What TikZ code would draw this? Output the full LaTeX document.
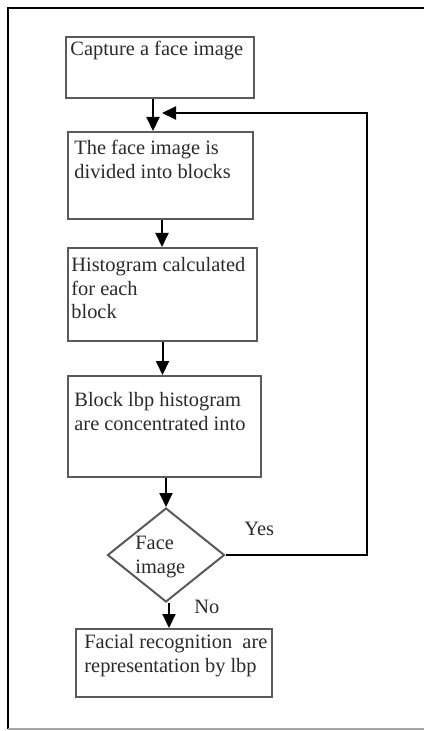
\documentclass[tikz,border=0pt]{standalone}
\usepackage{fontspec}
\setmainfont{Liberation Serif}
\usetikzlibrary{shapes.geometric,arrows.meta}
\definecolor{boxgray}{HTML}{5A5A5A}
\definecolor{txt}{HTML}{2A2A2A}
\tikzset{
  x=0.5pt, y=-0.5pt,
  box/.style={draw=boxgray, line width=1pt, inner sep=0pt, anchor=north west},
  lbl/.style={anchor=north west, inner sep=0pt, align=left, text=txt,
              font=\fontsize{10.2}{11.8}\selectfont},
  arr/.style={draw=black, line width=1pt, -{Triangle[length=7pt,width=6.5pt]}},
  dec/.style={draw=boxgray, line width=1pt, diamond, inner sep=0pt,
              minimum width=58.5pt, minimum height=47pt}
}
\begin{document}
\begin{tikzpicture}
\useasboundingbox (0,0) rectangle (424,731);
% outer frame
\draw[black, line width=0.9pt] (424,8) -- (8,8) -- (8,729);
\draw[gray!70, line width=0.9pt] (8,729) -- (424,729);
% boxes
\node[box, minimum width=94pt, minimum height=30.5pt] (b1) at (65,36) {};
\node[box, minimum width=92.5pt, minimum height=43.5pt] (b2) at (67,131) {};
\node[box, minimum width=94.5pt, minimum height=46.5pt] (b3) at (67,247) {};
\node[box, minimum width=96.5pt, minimum height=50.5pt] (b4) at (67,375) {};
\node[dec] (d) at (166,555) {};
\node[box, minimum width=98pt, minimum height=34pt] (b5) at (75,628) {};
% texts
\node[lbl] (t1) at (70,41) {Capture a face image};
\node[lbl] (t2) at (74,140) {The face image is\\divided into blocks};
\node[lbl] (t3) at (71,257) {Histogram calculated\\for each\\block};
\node[lbl] (t4) at (74,392) {Block lbp histogram\\are concentrated into};
\node[lbl] (t5) at (135,536) {Face\\image};
\node[lbl] (t6) at (84,634) {Facial recognition\ \ are\\representation by lbp};
\node[lbl] (yes) at (244,522) {Yes};
\node[lbl] (no) at (194,600) {No};
% connectors
\coordinate (fb) at (162,113);
\coordinate (fbr) at (367,113);
\draw[arr] ([xshift=-3.5pt]b1.south) -- ([xshift=-3.5pt]b1.south |- b2.north);
\draw[arr] ([xshift=0.75pt]b2.south) -- ([xshift=0.75pt]b2.south |- b3.north);
\draw[arr] (b3.south) -- (b3.south |- b4.north);
\draw[arr] (d.north |- b4.south) -- (d.north);
\draw[arr] ([xshift=1.5pt]d.south) -- ([xshift=1.5pt]d.south |- b5.north);
\draw[arr] (d.east) -- (d.east -| fbr) -- (fbr) -- (fb);
\end{tikzpicture}
\end{document}
